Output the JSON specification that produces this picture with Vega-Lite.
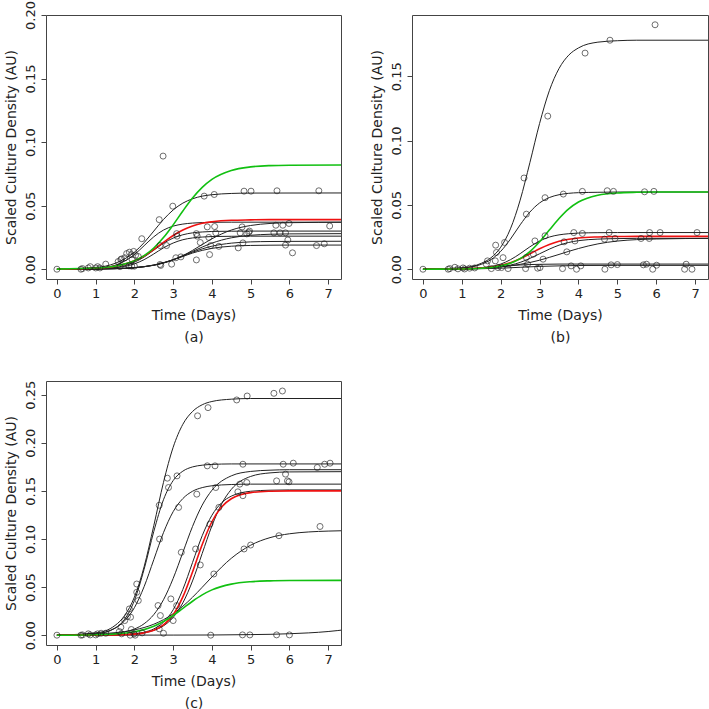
{
"$schema": "https://vega.github.io/schema/vega-lite/v6.json",
"padding": {"left": 3, "top": 0, "right": 0, "bottom": 0},
"background": "white",
"config": {
 "view": {"stroke": "#444", "strokeWidth": 1},
 "font": "DejaVu Sans",
 "axis": {"grid": false, "domain": false, "tickColor": "#444", "tickSize": 5, "labelFontSize": 13, "labelColor": "#222", "titleFontSize": 14, "titleFontWeight": "normal", "titleColor": "#222", "titleLineHeight": 22}
},
"datasets": {
"cv": [
{"p":"a","c":"A","g":"k","t":0,"v":0.0001},{"p":"a","c":"A","g":"k","t":1,"v":0.0014},{"p":"a","c":"A","g":"k","t":1.5,"v":0.0046},{"p":"a","c":"A","g":"k","t":2,"v":0.0134},{"p":"a","c":"A","g":"k","t":2.25,"v":0.0209},{"p":"a","c":"A","g":"k","t":2.5,"v":0.030},{"p":"a","c":"A","g":"k","t":2.75,"v":0.0391},{"p":"a","c":"A","g":"k","t":3,"v":0.0466},{"p":"a","c":"A","g":"k","t":3.25,"v":0.052},{"p":"a","c":"A","g":"k","t":3.5,"v":0.0554},{"p":"a","c":"A","g":"k","t":3.75,"v":0.0575},{"p":"a","c":"A","g":"k","t":4,"v":0.0586},{"p":"a","c":"A","g":"k","t":4.5,"v":0.0596},{"p":"a","c":"A","g":"k","t":5,"v":0.0599},{"p":"a","c":"A","g":"k","t":7.5,"v":0.060},
{"p":"a","c":"D","g":"k","t":0,"v":0},{"p":"a","c":"D","g":"k","t":1,"v":0.0007},{"p":"a","c":"D","g":"k","t":1.5,"v":0.0031},{"p":"a","c":"D","g":"k","t":2,"v":0.0115},{"p":"a","c":"D","g":"k","t":2.25,"v":0.0185},{"p":"a","c":"D","g":"k","t":2.5,"v":0.0255},{"p":"a","c":"D","g":"k","t":2.75,"v":0.0308},{"p":"a","c":"D","g":"k","t":3,"v":0.0339},{"p":"a","c":"D","g":"k","t":3.25,"v":0.0355},{"p":"a","c":"D","g":"k","t":3.5,"v":0.0363},{"p":"a","c":"D","g":"k","t":3.75,"v":0.0367},{"p":"a","c":"D","g":"k","t":4,"v":0.0369},{"p":"a","c":"D","g":"k","t":4.5,"v":0.037},{"p":"a","c":"D","g":"k","t":7.5,"v":0.037},
{"p":"a","c":"E","g":"k","t":0,"v":0},{"p":"a","c":"E","g":"k","t":1,"v":0.0003},{"p":"a","c":"E","g":"k","t":1.5,"v":0.0014},{"p":"a","c":"E","g":"k","t":2,"v":0.0055},{"p":"a","c":"E","g":"k","t":2.25,"v":0.0096},{"p":"a","c":"E","g":"k","t":2.5,"v":0.015},{"p":"a","c":"E","g":"k","t":2.75,"v":0.0204},{"p":"a","c":"E","g":"k","t":3,"v":0.0245},{"p":"a","c":"E","g":"k","t":3.25,"v":0.0271},{"p":"a","c":"E","g":"k","t":3.5,"v":0.0286},{"p":"a","c":"E","g":"k","t":3.75,"v":0.0293},{"p":"a","c":"E","g":"k","t":4,"v":0.0297},{"p":"a","c":"E","g":"k","t":4.5,"v":0.0299},{"p":"a","c":"E","g":"k","t":5,"v":0.030},{"p":"a","c":"E","g":"k","t":7.5,"v":0.030},
{"p":"a","c":"G","g":"k","t":0,"v":0},{"p":"a","c":"G","g":"k","t":1,"v":0.0003},{"p":"a","c":"G","g":"k","t":1.5,"v":0.0011},{"p":"a","c":"G","g":"k","t":2,"v":0.0042},{"p":"a","c":"G","g":"k","t":2.25,"v":0.0075},{"p":"a","c":"G","g":"k","t":2.5,"v":0.012},{"p":"a","c":"G","g":"k","t":2.75,"v":0.0168},{"p":"a","c":"G","g":"k","t":3,"v":0.0206},{"p":"a","c":"G","g":"k","t":3.25,"v":0.0232},{"p":"a","c":"G","g":"k","t":3.5,"v":0.0246},{"p":"a","c":"G","g":"k","t":3.75,"v":0.0253},{"p":"a","c":"G","g":"k","t":4,"v":0.0257},{"p":"a","c":"G","g":"k","t":4.5,"v":0.0259},{"p":"a","c":"G","g":"k","t":5,"v":0.026},{"p":"a","c":"G","g":"k","t":7.5,"v":0.026},
{"p":"a","c":"F","g":"k","t":0,"v":0},{"p":"a","c":"F","g":"k","t":1,"v":0.0002},{"p":"a","c":"F","g":"k","t":1.5,"v":0.0005},{"p":"a","c":"F","g":"k","t":2,"v":0.0013},{"p":"a","c":"F","g":"k","t":2.5,"v":0.0033},{"p":"a","c":"F","g":"k","t":2.75,"v":0.0051},{"p":"a","c":"F","g":"k","t":3,"v":0.0075},{"p":"a","c":"F","g":"k","t":3.25,"v":0.0106},{"p":"a","c":"F","g":"k","t":3.5,"v":0.014},{"p":"a","c":"F","g":"k","t":3.75,"v":0.0174},{"p":"a","c":"F","g":"k","t":4,"v":0.0205},{"p":"a","c":"F","g":"k","t":4.5,"v":0.0247},{"p":"a","c":"F","g":"k","t":5,"v":0.0267},{"p":"a","c":"F","g":"k","t":5.5,"v":0.0275},{"p":"a","c":"F","g":"k","t":6,"v":0.0278},{"p":"a","c":"F","g":"k","t":7.5,"v":0.028},
{"p":"a","c":"L1","g":"k","t":0,"v":0},{"p":"a","c":"L1","g":"k","t":1,"v":0.0002},{"p":"a","c":"L1","g":"k","t":1.5,"v":0.0005},{"p":"a","c":"L1","g":"k","t":2,"v":0.0012},{"p":"a","c":"L1","g":"k","t":2.5,"v":0.0031},{"p":"a","c":"L1","g":"k","t":2.75,"v":0.0048},{"p":"a","c":"L1","g":"k","t":3,"v":0.0073},{"p":"a","c":"L1","g":"k","t":3.25,"v":0.0107},{"p":"a","c":"L1","g":"k","t":3.5,"v":0.0148},{"p":"a","c":"L1","g":"k","t":3.75,"v":0.0194},{"p":"a","c":"L1","g":"k","t":4,"v":0.0239},{"p":"a","c":"L1","g":"k","t":4.5,"v":0.0308},{"p":"a","c":"L1","g":"k","t":5,"v":0.0344},{"p":"a","c":"L1","g":"k","t":5.5,"v":0.036},{"p":"a","c":"L1","g":"k","t":6,"v":0.0366},{"p":"a","c":"L1","g":"k","t":7.5,"v":0.037},
{"p":"a","c":"L3","g":"k","t":0,"v":0},{"p":"a","c":"L3","g":"k","t":1,"v":0.0001},{"p":"a","c":"L3","g":"k","t":1.5,"v":0.0004},{"p":"a","c":"L3","g":"k","t":2,"v":0.0012},{"p":"a","c":"L3","g":"k","t":2.5,"v":0.0032},{"p":"a","c":"L3","g":"k","t":2.75,"v":0.0051},{"p":"a","c":"L3","g":"k","t":3,"v":0.0075},{"p":"a","c":"L3","g":"k","t":3.25,"v":0.0104},{"p":"a","c":"L3","g":"k","t":3.5,"v":0.0134},{"p":"a","c":"L3","g":"k","t":3.75,"v":0.016},{"p":"a","c":"L3","g":"k","t":4,"v":0.0181},{"p":"a","c":"L3","g":"k","t":4.5,"v":0.0205},{"p":"a","c":"L3","g":"k","t":5,"v":0.0215},{"p":"a","c":"L3","g":"k","t":5.5,"v":0.0218},{"p":"a","c":"L3","g":"k","t":6,"v":0.0219},{"p":"a","c":"L3","g":"k","t":7.5,"v":0.022},
{"p":"a","c":"L4","g":"k","t":0,"v":0},{"p":"a","c":"L4","g":"k","t":1,"v":0.0001},{"p":"a","c":"L4","g":"k","t":1.5,"v":0.0004},{"p":"a","c":"L4","g":"k","t":2,"v":0.0011},{"p":"a","c":"L4","g":"k","t":2.5,"v":0.0032},{"p":"a","c":"L4","g":"k","t":2.75,"v":0.005},{"p":"a","c":"L4","g":"k","t":3,"v":0.0074},{"p":"a","c":"L4","g":"k","t":3.25,"v":0.01},{"p":"a","c":"L4","g":"k","t":3.5,"v":0.0127},{"p":"a","c":"L4","g":"k","t":3.75,"v":0.0148},{"p":"a","c":"L4","g":"k","t":4,"v":0.0164},{"p":"a","c":"L4","g":"k","t":4.5,"v":0.0181},{"p":"a","c":"L4","g":"k","t":5,"v":0.0187},{"p":"a","c":"L4","g":"k","t":5.5,"v":0.0189},{"p":"a","c":"L4","g":"k","t":6,"v":0.019},{"p":"a","c":"L4","g":"k","t":7.5,"v":0.019},
{"p":"a","c":"R","g":"r","t":0,"v":0.0001},{"p":"a","c":"R","g":"r","t":1,"v":0.0008},{"p":"a","c":"R","g":"r","t":1.5,"v":0.0023},{"p":"a","c":"R","g":"r","t":2,"v":0.0066},{"p":"a","c":"R","g":"r","t":2.25,"v":0.0104},{"p":"a","c":"R","g":"r","t":2.5,"v":0.0155},{"p":"a","c":"R","g":"r","t":2.75,"v":0.0211},{"p":"a","c":"R","g":"r","t":3,"v":0.0265},{"p":"a","c":"R","g":"r","t":3.25,"v":0.0309},{"p":"a","c":"R","g":"r","t":3.5,"v":0.034},{"p":"a","c":"R","g":"r","t":3.75,"v":0.0361},{"p":"a","c":"R","g":"r","t":4,"v":0.0373},{"p":"a","c":"R","g":"r","t":4.5,"v":0.0385},{"p":"a","c":"R","g":"r","t":5,"v":0.0388},{"p":"a","c":"R","g":"r","t":5.5,"v":0.039},{"p":"a","c":"R","g":"r","t":7.5,"v":0.039},
{"p":"a","c":"Gr","g":"g","t":0,"v":0.0001},{"p":"a","c":"Gr","g":"g","t":1,"v":0.0009},{"p":"a","c":"Gr","g":"g","t":1.5,"v":0.0024},{"p":"a","c":"Gr","g":"g","t":2,"v":0.0066},{"p":"a","c":"Gr","g":"g","t":2.25,"v":0.0107},{"p":"a","c":"Gr","g":"g","t":2.5,"v":0.0167},{"p":"a","c":"Gr","g":"g","t":2.75,"v":0.0249},{"p":"a","c":"Gr","g":"g","t":3,"v":0.0349},{"p":"a","c":"Gr","g":"g","t":3.25,"v":0.0458},{"p":"a","c":"Gr","g":"g","t":3.5,"v":0.056},{"p":"a","c":"Gr","g":"g","t":3.75,"v":0.0644},{"p":"a","c":"Gr","g":"g","t":4,"v":0.0707},{"p":"a","c":"Gr","g":"g","t":4.5,"v":0.0777},{"p":"a","c":"Gr","g":"g","t":5,"v":0.0805},{"p":"a","c":"Gr","g":"g","t":5.5,"v":0.0815},{"p":"a","c":"Gr","g":"g","t":6,"v":0.0818},{"p":"a","c":"Gr","g":"g","t":7.5,"v":0.082},

{"p":"b","c":"B1","g":"k","t":0,"v":0.0001},{"p":"b","c":"B1","g":"k","t":1,"v":0.0011},{"p":"b","c":"B1","g":"k","t":1.5,"v":0.0046},{"p":"b","c":"B1","g":"k","t":1.75,"v":0.0089},{"p":"b","c":"B1","g":"k","t":2,"v":0.0171},{"p":"b","c":"B1","g":"k","t":2.25,"v":0.0314},{"p":"b","c":"B1","g":"k","t":2.5,"v":0.0537},{"p":"b","c":"B1","g":"k","t":2.75,"v":0.0828},{"p":"b","c":"B1","g":"k","t":3,"v":0.1133},{"p":"b","c":"B1","g":"k","t":3.25,"v":0.1387},{"p":"b","c":"B1","g":"k","t":3.5,"v":0.156},{"p":"b","c":"B1","g":"k","t":3.75,"v":0.1664},{"p":"b","c":"B1","g":"k","t":4,"v":0.172},{"p":"b","c":"B1","g":"k","t":4.5,"v":0.1765},{"p":"b","c":"B1","g":"k","t":5,"v":0.1776},{"p":"b","c":"B1","g":"k","t":5.5,"v":0.178},{"p":"b","c":"B1","g":"k","t":7.5,"v":0.178},
{"p":"b","c":"B2","g":"k","t":0,"v":0},{"p":"b","c":"B2","g":"k","t":1,"v":0.0009},{"p":"b","c":"B2","g":"k","t":1.5,"v":0.0038},{"p":"b","c":"B2","g":"k","t":1.75,"v":0.0075},{"p":"b","c":"B2","g":"k","t":2,"v":0.0139},{"p":"b","c":"B2","g":"k","t":2.25,"v":0.0234},{"p":"b","c":"B2","g":"k","t":2.5,"v":0.0345},{"p":"b","c":"B2","g":"k","t":2.75,"v":0.0444},{"p":"b","c":"B2","g":"k","t":3,"v":0.0515},{"p":"b","c":"B2","g":"k","t":3.25,"v":0.0557},{"p":"b","c":"B2","g":"k","t":3.5,"v":0.0579},{"p":"b","c":"B2","g":"k","t":3.75,"v":0.059},{"p":"b","c":"B2","g":"k","t":4,"v":0.0595},{"p":"b","c":"B2","g":"k","t":4.5,"v":0.0598},{"p":"b","c":"B2","g":"k","t":5,"v":0.060},{"p":"b","c":"B2","g":"k","t":7.5,"v":0.060},
{"p":"b","c":"B3","g":"k","t":0,"v":0},{"p":"b","c":"B3","g":"k","t":1,"v":0.0002},{"p":"b","c":"B3","g":"k","t":1.5,"v":0.001},{"p":"b","c":"B3","g":"k","t":1.75,"v":0.0021},{"p":"b","c":"B3","g":"k","t":2,"v":0.004},{"p":"b","c":"B3","g":"k","t":2.25,"v":0.0074},{"p":"b","c":"B3","g":"k","t":2.5,"v":0.0121},{"p":"b","c":"B3","g":"k","t":2.75,"v":0.0174},{"p":"b","c":"B3","g":"k","t":3,"v":0.0219},{"p":"b","c":"B3","g":"k","t":3.25,"v":0.025},{"p":"b","c":"B3","g":"k","t":3.5,"v":0.0267},{"p":"b","c":"B3","g":"k","t":3.75,"v":0.0276},{"p":"b","c":"B3","g":"k","t":4,"v":0.0281},{"p":"b","c":"B3","g":"k","t":4.5,"v":0.0284},{"p":"b","c":"B3","g":"k","t":5,"v":0.0285},{"p":"b","c":"B3","g":"k","t":7.5,"v":0.0285},
{"p":"b","c":"B4","g":"k","t":0,"v":0},{"p":"b","c":"B4","g":"k","t":1,"v":0.0002},{"p":"b","c":"B4","g":"k","t":1.5,"v":0.0006},{"p":"b","c":"B4","g":"k","t":1.75,"v":0.001},{"p":"b","c":"B4","g":"k","t":2,"v":0.0018},{"p":"b","c":"B4","g":"k","t":2.25,"v":0.0032},{"p":"b","c":"B4","g":"k","t":2.5,"v":0.0053},{"p":"b","c":"B4","g":"k","t":2.75,"v":0.0084},{"p":"b","c":"B4","g":"k","t":3,"v":0.012},{"p":"b","c":"B4","g":"k","t":3.25,"v":0.0156},{"p":"b","c":"B4","g":"k","t":3.5,"v":0.0187},{"p":"b","c":"B4","g":"k","t":3.75,"v":0.0208},{"p":"b","c":"B4","g":"k","t":4,"v":0.0222},{"p":"b","c":"B4","g":"k","t":4.5,"v":0.0234},{"p":"b","c":"B4","g":"k","t":5,"v":0.0238},{"p":"b","c":"B4","g":"k","t":5.5,"v":0.024},{"p":"b","c":"B4","g":"k","t":7.5,"v":0.024},
{"p":"b","c":"B5","g":"k","t":0,"v":0.0001},{"p":"b","c":"B5","g":"k","t":1,"v":0.0004},{"p":"b","c":"B5","g":"k","t":1.5,"v":0.0009},{"p":"b","c":"B5","g":"k","t":2,"v":0.0019},{"p":"b","c":"B5","g":"k","t":2.5,"v":0.0038},{"p":"b","c":"B5","g":"k","t":3,"v":0.007},{"p":"b","c":"B5","g":"k","t":3.25,"v":0.0092},{"p":"b","c":"B5","g":"k","t":3.5,"v":0.0115},{"p":"b","c":"B5","g":"k","t":3.75,"v":0.0139},{"p":"b","c":"B5","g":"k","t":4,"v":0.0161},{"p":"b","c":"B5","g":"k","t":4.5,"v":0.0197},{"p":"b","c":"B5","g":"k","t":5,"v":0.0219},{"p":"b","c":"B5","g":"k","t":5.5,"v":0.023},{"p":"b","c":"B5","g":"k","t":6,"v":0.0235},{"p":"b","c":"B5","g":"k","t":7.5,"v":0.024},
{"p":"b","c":"F1","g":"k","t":0,"v":0},{"p":"b","c":"F1","g":"k","t":1,"v":0.0002},{"p":"b","c":"F1","g":"k","t":1.5,"v":0.0007},{"p":"b","c":"F1","g":"k","t":2,"v":0.002},{"p":"b","c":"F1","g":"k","t":2.5,"v":0.0033},{"p":"b","c":"F1","g":"k","t":3,"v":0.0038},{"p":"b","c":"F1","g":"k","t":3.5,"v":0.004},{"p":"b","c":"F1","g":"k","t":7.5,"v":0.004},
{"p":"b","c":"F3","g":"k","t":0,"v":0},{"p":"b","c":"F3","g":"k","t":1,"v":0.0001},{"p":"b","c":"F3","g":"k","t":1.5,"v":0.0004},{"p":"b","c":"F3","g":"k","t":2,"v":0.0008},{"p":"b","c":"F3","g":"k","t":2.5,"v":0.0015},{"p":"b","c":"F3","g":"k","t":3,"v":0.0022},{"p":"b","c":"F3","g":"k","t":3.5,"v":0.0026},{"p":"b","c":"F3","g":"k","t":4,"v":0.0029},{"p":"b","c":"F3","g":"k","t":5,"v":0.003},{"p":"b","c":"F3","g":"k","t":7.5,"v":0.003},
{"p":"b","c":"R","g":"r","t":0,"v":0},{"p":"b","c":"R","g":"r","t":1,"v":0.0003},{"p":"b","c":"R","g":"r","t":1.5,"v":0.001},{"p":"b","c":"R","g":"r","t":1.75,"v":0.0017},{"p":"b","c":"R","g":"r","t":2,"v":0.003},{"p":"b","c":"R","g":"r","t":2.25,"v":0.0051},{"p":"b","c":"R","g":"r","t":2.5,"v":0.0082},{"p":"b","c":"R","g":"r","t":2.75,"v":0.012},{"p":"b","c":"R","g":"r","t":3,"v":0.0159},{"p":"b","c":"R","g":"r","t":3.25,"v":0.0192},{"p":"b","c":"R","g":"r","t":3.5,"v":0.0217},{"p":"b","c":"R","g":"r","t":3.75,"v":0.0233},{"p":"b","c":"R","g":"r","t":4,"v":0.0243},{"p":"b","c":"R","g":"r","t":4.5,"v":0.0251},{"p":"b","c":"R","g":"r","t":5,"v":0.0254},{"p":"b","c":"R","g":"r","t":5.5,"v":0.0255},{"p":"b","c":"R","g":"r","t":7.5,"v":0.0255},
{"p":"b","c":"Gr","g":"g","t":0,"v":0},{"p":"b","c":"Gr","g":"g","t":1,"v":0.0002},{"p":"b","c":"Gr","g":"g","t":1.5,"v":0.0008},{"p":"b","c":"Gr","g":"g","t":1.75,"v":0.0014},{"p":"b","c":"Gr","g":"g","t":2,"v":0.0026},{"p":"b","c":"Gr","g":"g","t":2.25,"v":0.0047},{"p":"b","c":"Gr","g":"g","t":2.5,"v":0.0082},{"p":"b","c":"Gr","g":"g","t":2.75,"v":0.0136},{"p":"b","c":"Gr","g":"g","t":3,"v":0.0213},{"p":"b","c":"Gr","g":"g","t":3.25,"v":0.0304},{"p":"b","c":"Gr","g":"g","t":3.5,"v":0.0394},{"p":"b","c":"Gr","g":"g","t":3.75,"v":0.0469},{"p":"b","c":"Gr","g":"g","t":4,"v":0.0522},{"p":"b","c":"Gr","g":"g","t":4.5,"v":0.0575},{"p":"b","c":"Gr","g":"g","t":5,"v":0.0593},{"p":"b","c":"Gr","g":"g","t":5.5,"v":0.0598},{"p":"b","c":"Gr","g":"g","t":6,"v":0.060},{"p":"b","c":"Gr","g":"g","t":7.5,"v":0.060},

{"p":"c","c":"C1","g":"k","t":0,"v":0.0001},{"p":"c","c":"C1","g":"k","t":1,"v":0.0023},{"p":"c","c":"C1","g":"k","t":1.5,"v":0.0101},{"p":"c","c":"C1","g":"k","t":1.75,"v":0.0205},{"p":"c","c":"C1","g":"k","t":2,"v":0.0396},{"p":"c","c":"C1","g":"k","t":2.25,"v":0.0711},{"p":"c","c":"C1","g":"k","t":2.5,"v":0.1138},{"p":"c","c":"C1","g":"k","t":2.75,"v":0.1588},{"p":"c","c":"C1","g":"k","t":3,"v":0.1953},{"p":"c","c":"C1","g":"k","t":3.25,"v":0.2192},{"p":"c","c":"C1","g":"k","t":3.5,"v":0.2325},{"p":"c","c":"C1","g":"k","t":3.75,"v":0.2395},{"p":"c","c":"C1","g":"k","t":4,"v":0.2429},{"p":"c","c":"C1","g":"k","t":4.5,"v":0.2453},{"p":"c","c":"C1","g":"k","t":5,"v":0.246},{"p":"c","c":"C1","g":"k","t":7.5,"v":0.246},
{"p":"c","c":"C2","g":"k","t":0,"v":0},{"p":"c","c":"C2","g":"k","t":1,"v":0.0012},{"p":"c","c":"C2","g":"k","t":1.5,"v":0.0072},{"p":"c","c":"C2","g":"k","t":1.75,"v":0.0167},{"p":"c","c":"C2","g":"k","t":2,"v":0.0361},{"p":"c","c":"C2","g":"k","t":2.25,"v":0.0685},{"p":"c","c":"C2","g":"k","t":2.5,"v":0.1078},{"p":"c","c":"C2","g":"k","t":2.75,"v":0.1408},{"p":"c","c":"C2","g":"k","t":3,"v":0.1607},{"p":"c","c":"C2","g":"k","t":3.25,"v":0.1705},{"p":"c","c":"C2","g":"k","t":3.5,"v":0.1749},{"p":"c","c":"C2","g":"k","t":3.75,"v":0.1767},{"p":"c","c":"C2","g":"k","t":4,"v":0.1775},{"p":"c","c":"C2","g":"k","t":4.5,"v":0.178},{"p":"c","c":"C2","g":"k","t":7.5,"v":0.178},
{"p":"c","c":"C3","g":"k","t":0,"v":0.0001},{"p":"c","c":"C3","g":"k","t":1,"v":0.0017},{"p":"c","c":"C3","g":"k","t":1.5,"v":0.0074},{"p":"c","c":"C3","g":"k","t":1.75,"v":0.015},{"p":"c","c":"C3","g":"k","t":2,"v":0.0286},{"p":"c","c":"C3","g":"k","t":2.25,"v":0.0504},{"p":"c","c":"C3","g":"k","t":2.5,"v":0.0785},{"p":"c","c":"C3","g":"k","t":2.75,"v":0.1066},{"p":"c","c":"C3","g":"k","t":3,"v":0.1284},{"p":"c","c":"C3","g":"k","t":3.25,"v":0.142},{"p":"c","c":"C3","g":"k","t":3.5,"v":0.1496},{"p":"c","c":"C3","g":"k","t":3.75,"v":0.1534},{"p":"c","c":"C3","g":"k","t":4,"v":0.1553},{"p":"c","c":"C3","g":"k","t":4.5,"v":0.1566},{"p":"c","c":"C3","g":"k","t":5,"v":0.157},{"p":"c","c":"C3","g":"k","t":7.5,"v":0.157},
{"p":"c","c":"M1","g":"k","t":0,"v":0},{"p":"c","c":"M1","g":"k","t":1,"v":0.0005},{"p":"c","c":"M1","g":"k","t":1.5,"v":0.0018},{"p":"c","c":"M1","g":"k","t":1.75,"v":0.0034},{"p":"c","c":"M1","g":"k","t":2,"v":0.0064},{"p":"c","c":"M1","g":"k","t":2.25,"v":0.0119},{"p":"c","c":"M1","g":"k","t":2.5,"v":0.0214},{"p":"c","c":"M1","g":"k","t":2.75,"v":0.0368},{"p":"c","c":"M1","g":"k","t":3,"v":0.059},{"p":"c","c":"M1","g":"k","t":3.25,"v":0.086},{"p":"c","c":"M1","g":"k","t":3.5,"v":0.113},{"p":"c","c":"M1","g":"k","t":3.75,"v":0.1352},{"p":"c","c":"M1","g":"k","t":4,"v":0.1506},{"p":"c","c":"M1","g":"k","t":4.5,"v":0.1656},{"p":"c","c":"M1","g":"k","t":5,"v":0.1702},{"p":"c","c":"M1","g":"k","t":5.5,"v":0.1715},{"p":"c","c":"M1","g":"k","t":6,"v":0.172},{"p":"c","c":"M1","g":"k","t":7.5,"v":0.172},
{"p":"c","c":"M2","g":"k","t":0,"v":0},{"p":"c","c":"M2","g":"k","t":1,"v":0.0001},{"p":"c","c":"M2","g":"k","t":1.5,"v":0.0003},{"p":"c","c":"M2","g":"k","t":1.75,"v":0.0007},{"p":"c","c":"M2","g":"k","t":2,"v":0.0014},{"p":"c","c":"M2","g":"k","t":2.25,"v":0.0031},{"p":"c","c":"M2","g":"k","t":2.5,"v":0.0065},{"p":"c","c":"M2","g":"k","t":2.75,"v":0.0134},{"p":"c","c":"M2","g":"k","t":3,"v":0.0264},{"p":"c","c":"M2","g":"k","t":3.25,"v":0.0476},{"p":"c","c":"M2","g":"k","t":3.5,"v":0.0755},{"p":"c","c":"M2","g":"k","t":3.75,"v":0.1034},{"p":"c","c":"M2","g":"k","t":4,"v":0.1246},{"p":"c","c":"M2","g":"k","t":4.25,"v":0.1376},{"p":"c","c":"M2","g":"k","t":4.5,"v":0.1445},{"p":"c","c":"M2","g":"k","t":5,"v":0.1496},{"p":"c","c":"M2","g":"k","t":5.5,"v":0.1507},{"p":"c","c":"M2","g":"k","t":6,"v":0.151},{"p":"c","c":"M2","g":"k","t":7.5,"v":0.151},
{"p":"c","c":"M3","g":"k","t":0,"v":0},{"p":"c","c":"M3","g":"k","t":1,"v":0.0001},{"p":"c","c":"M3","g":"k","t":1.5,"v":0.0003},{"p":"c","c":"M3","g":"k","t":1.75,"v":0.0006},{"p":"c","c":"M3","g":"k","t":2,"v":0.0013},{"p":"c","c":"M3","g":"k","t":2.25,"v":0.0025},{"p":"c","c":"M3","g":"k","t":2.5,"v":0.005},{"p":"c","c":"M3","g":"k","t":2.75,"v":0.0097},{"p":"c","c":"M3","g":"k","t":3,"v":0.0185},{"p":"c","c":"M3","g":"k","t":3.25,"v":0.0336},{"p":"c","c":"M3","g":"k","t":3.5,"v":0.0564},{"p":"c","c":"M3","g":"k","t":3.75,"v":0.085},{"p":"c","c":"M3","g":"k","t":4,"v":0.1136},{"p":"c","c":"M3","g":"k","t":4.25,"v":0.1364},{"p":"c","c":"M3","g":"k","t":4.5,"v":0.1515},{"p":"c","c":"M3","g":"k","t":5,"v":0.165},{"p":"c","c":"M3","g":"k","t":5.5,"v":0.1687},{"p":"c","c":"M3","g":"k","t":6,"v":0.1697},{"p":"c","c":"M3","g":"k","t":7.5,"v":0.170},
{"p":"c","c":"C7","g":"k","t":0,"v":0.0002},{"p":"c","c":"C7","g":"k","t":1,"v":0.0012},{"p":"c","c":"C7","g":"k","t":1.5,"v":0.0026},{"p":"c","c":"C7","g":"k","t":2,"v":0.0055},{"p":"c","c":"C7","g":"k","t":2.5,"v":0.0114},{"p":"c","c":"C7","g":"k","t":2.75,"v":0.0161},{"p":"c","c":"C7","g":"k","t":3,"v":0.0223},{"p":"c","c":"C7","g":"k","t":3.25,"v":0.0301},{"p":"c","c":"C7","g":"k","t":3.5,"v":0.0394},{"p":"c","c":"C7","g":"k","t":3.75,"v":0.0498},{"p":"c","c":"C7","g":"k","t":4,"v":0.0605},{"p":"c","c":"C7","g":"k","t":4.5,"v":0.0799},{"p":"c","c":"C7","g":"k","t":5,"v":0.0935},{"p":"c","c":"C7","g":"k","t":5.5,"v":0.1014},{"p":"c","c":"C7","g":"k","t":6,"v":0.1054},{"p":"c","c":"C7","g":"k","t":6.5,"v":0.1073},{"p":"c","c":"C7","g":"k","t":7,"v":0.1082},{"p":"c","c":"C7","g":"k","t":7.5,"v":0.1087},
{"p":"c","c":"CF","g":"k","t":0,"v":0},{"p":"c","c":"CF","g":"k","t":3,"v":0.0001},{"p":"c","c":"CF","g":"k","t":4,"v":0.0002},{"p":"c","c":"CF","g":"k","t":5,"v":0.0006},{"p":"c","c":"CF","g":"k","t":5.5,"v":0.0009},{"p":"c","c":"CF","g":"k","t":6,"v":0.0015},{"p":"c","c":"CF","g":"k","t":6.5,"v":0.0024},{"p":"c","c":"CF","g":"k","t":7,"v":0.0038},{"p":"c","c":"CF","g":"k","t":7.5,"v":0.006},
{"p":"c","c":"R","g":"r","t":0,"v":0},{"p":"c","c":"R","g":"r","t":1,"v":0.0001},{"p":"c","c":"R","g":"r","t":1.5,"v":0.0002},{"p":"c","c":"R","g":"r","t":2,"v":0.0011},{"p":"c","c":"R","g":"r","t":2.25,"v":0.0024},{"p":"c","c":"R","g":"r","t":2.5,"v":0.0051},{"p":"c","c":"R","g":"r","t":2.75,"v":0.0107},{"p":"c","c":"R","g":"r","t":3,"v":0.0213},{"p":"c","c":"R","g":"r","t":3.25,"v":0.0398},{"p":"c","c":"R","g":"r","t":3.5,"v":0.0657},{"p":"c","c":"R","g":"r","t":3.75,"v":0.0943},{"p":"c","c":"R","g":"r","t":4,"v":0.1179},{"p":"c","c":"R","g":"r","t":4.25,"v":0.1333},{"p":"c","c":"R","g":"r","t":4.5,"v":0.1418},{"p":"c","c":"R","g":"r","t":5,"v":0.1482},{"p":"c","c":"R","g":"r","t":5.5,"v":0.1496},{"p":"c","c":"R","g":"r","t":6,"v":0.150},{"p":"c","c":"R","g":"r","t":7.5,"v":0.150},
{"p":"c","c":"Gr","g":"g","t":0,"v":0},{"p":"c","c":"Gr","g":"g","t":1,"v":0.0005},{"p":"c","c":"Gr","g":"g","t":1.5,"v":0.0013},{"p":"c","c":"Gr","g":"g","t":2,"v":0.0036},{"p":"c","c":"Gr","g":"g","t":2.25,"v":0.0058},{"p":"c","c":"Gr","g":"g","t":2.5,"v":0.0093},{"p":"c","c":"Gr","g":"g","t":2.75,"v":0.0142},{"p":"c","c":"Gr","g":"g","t":3,"v":0.0205},{"p":"c","c":"Gr","g":"g","t":3.25,"v":0.0279},{"p":"c","c":"Gr","g":"g","t":3.5,"v":0.0353},{"p":"c","c":"Gr","g":"g","t":3.75,"v":0.0419},{"p":"c","c":"Gr","g":"g","t":4,"v":0.0471},{"p":"c","c":"Gr","g":"g","t":4.5,"v":0.0531},{"p":"c","c":"Gr","g":"g","t":5,"v":0.0556},{"p":"c","c":"Gr","g":"g","t":5.5,"v":0.0565},{"p":"c","c":"Gr","g":"g","t":6,"v":0.0568},{"p":"c","c":"Gr","g":"g","t":7.5,"v":0.057}
],
"pt": [
{"p":"a","t":0,"v":0},{"p":"a","t":0.62,"v":0},{"p":"a","t":0.66,"v":0.0005},{"p":"a","t":0.81,"v":0.001},{"p":"a","t":0.86,"v":0.002},{"p":"a","t":1.0,"v":0.001},{"p":"a","t":1.05,"v":0.002},{"p":"a","t":1.11,"v":0.001},{"p":"a","t":1.26,"v":0.004},
{"p":"a","t":1.58,"v":0.006},{"p":"a","t":1.63,"v":0.002},{"p":"a","t":1.65,"v":0.0076},{"p":"a","t":1.67,"v":0.0081},{"p":"a","t":1.75,"v":0.009},{"p":"a","t":1.8,"v":0.0123},{"p":"a","t":1.86,"v":0.0026},{"p":"a","t":1.87,"v":0.0134},{"p":"a","t":1.92,"v":0.0115},{"p":"a","t":1.93,"v":0.0024},{"p":"a","t":1.94,"v":0.0076},{"p":"a","t":1.98,"v":0.014},{"p":"a","t":2.0,"v":0.0024},{"p":"a","t":2.03,"v":0.011},{"p":"a","t":2.1,"v":0.010},{"p":"a","t":2.19,"v":0.024},
{"p":"a","t":2.64,"v":0.039},{"p":"a","t":2.74,"v":0.089},{"p":"a","t":2.99,"v":0.0496},{"p":"a","t":2.66,"v":0.0186},{"p":"a","t":2.83,"v":0.0186},{"p":"a","t":2.66,"v":0.0037},{"p":"a","t":2.68,"v":0.003},{"p":"a","t":2.96,"v":0.004},{"p":"a","t":3.09,"v":0.028},{"p":"a","t":3.1,"v":0.026},{"p":"a","t":3.07,"v":0.009},{"p":"a","t":3.2,"v":0.0097},
{"p":"a","t":3.6,"v":0.0073},{"p":"a","t":3.6,"v":0.028},{"p":"a","t":3.62,"v":0.026},{"p":"a","t":3.7,"v":0.021},{"p":"a","t":3.8,"v":0.0575},{"p":"a","t":3.88,"v":0.0333},{"p":"a","t":3.92,"v":0.025},{"p":"a","t":3.94,"v":0.0115},{"p":"a","t":3.97,"v":0.0186},{"p":"a","t":4.06,"v":0.0588},{"p":"a","t":4.07,"v":0.0336},{"p":"a","t":4.1,"v":0.0286},{"p":"a","t":4.18,"v":0.018},
{"p":"a","t":4.68,"v":0.0168},{"p":"a","t":4.73,"v":0.0286},{"p":"a","t":4.78,"v":0.0333},{"p":"a","t":4.8,"v":0.0207},{"p":"a","t":4.83,"v":0.0614},{"p":"a","t":4.9,"v":0.0278},{"p":"a","t":4.95,"v":0.029},{"p":"a","t":4.97,"v":0.030},{"p":"a","t":5.01,"v":0.0614},
{"p":"a","t":5.6,"v":0.0286},{"p":"a","t":5.65,"v":0.0346},{"p":"a","t":5.68,"v":0.0617},{"p":"a","t":5.76,"v":0.0286},{"p":"a","t":5.83,"v":0.0346},{"p":"a","t":5.9,"v":0.0286},{"p":"a","t":5.9,"v":0.019},{"p":"a","t":5.96,"v":0.023},{"p":"a","t":5.99,"v":0.036},{"p":"a","t":6.08,"v":0.0129},
{"p":"a","t":6.7,"v":0.0186},{"p":"a","t":6.76,"v":0.0617},{"p":"a","t":6.9,"v":0.02},{"p":"a","t":7.04,"v":0.034},

{"p":"b","t":0,"v":0},{"p":"b","t":0.65,"v":0},{"p":"b","t":0.69,"v":0.0005},{"p":"b","t":0.82,"v":0.0015},{"p":"b","t":0.9,"v":0.0003},{"p":"b","t":1.03,"v":0.001},{"p":"b","t":1.07,"v":0.0002},{"p":"b","t":1.2,"v":0.0008},{"p":"b","t":1.33,"v":0.001},
{"p":"b","t":1.63,"v":0.0039},{"p":"b","t":1.66,"v":0.0065},{"p":"b","t":1.87,"v":0.0187},{"p":"b","t":1.89,"v":0.013},{"p":"b","t":1.86,"v":0.0065},{"p":"b","t":2.06,"v":0.009},{"p":"b","t":2.1,"v":0.0208},{"p":"b","t":2.02,"v":0.0013},{"p":"b","t":1.76,"v":0.0005},{"p":"b","t":1.93,"v":0.0013},{"p":"b","t":2.19,"v":0.0005},
{"p":"b","t":2.6,"v":0.0709},{"p":"b","t":2.66,"v":0.0428},{"p":"b","t":2.66,"v":0.0091},{"p":"b","t":2.69,"v":0.0039},{"p":"b","t":2.64,"v":0.0005},{"p":"b","t":2.84,"v":0.0117},{"p":"b","t":2.88,"v":0.022},{"p":"b","t":2.95,"v":0.0008},{"p":"b","t":3.01,"v":0.0013},{"p":"b","t":3.09,"v":0.0078},{"p":"b","t":3.14,"v":0.026},{"p":"b","t":3.14,"v":0.0556},{"p":"b","t":3.21,"v":0.119},
{"p":"b","t":3.61,"v":0.0584},{"p":"b","t":3.59,"v":0.0005},{"p":"b","t":3.63,"v":0.0213},{"p":"b","t":3.7,"v":0.0135},{"p":"b","t":3.81,"v":0.0026},{"p":"b","t":3.88,"v":0.0285},{"p":"b","t":3.91,"v":0.022},{"p":"b","t":3.95,"v":0},{"p":"b","t":4.06,"v":0.0026},{"p":"b","t":4.1,"v":0.0605},{"p":"b","t":4.1,"v":0.0278},{"p":"b","t":4.17,"v":0.168},
{"p":"b","t":4.67,"v":0.0234},{"p":"b","t":4.68,"v":0},{"p":"b","t":4.74,"v":0.061},{"p":"b","t":4.79,"v":0.0285},{"p":"b","t":4.81,"v":0.178},{"p":"b","t":4.84,"v":0.0034},{"p":"b","t":4.9,"v":0.0605},{"p":"b","t":4.94,"v":0.0239},{"p":"b","t":5.0,"v":0.0036},
{"p":"b","t":5.61,"v":0.0239},{"p":"b","t":5.67,"v":0.0034},{"p":"b","t":5.7,"v":0.0602},{"p":"b","t":5.75,"v":0.0039},{"p":"b","t":5.82,"v":0.0239},{"p":"b","t":5.83,"v":0.0285},{"p":"b","t":5.91,"v":0},{"p":"b","t":5.94,"v":0.0605},{"p":"b","t":5.97,"v":0.19},{"p":"b","t":6.01,"v":0.0031},{"p":"b","t":6.1,"v":0.0285},
{"p":"b","t":6.73,"v":0},{"p":"b","t":6.77,"v":0.0039},{"p":"b","t":6.92,"v":0},{"p":"b","t":7.05,"v":0.0285},

{"p":"c","t":0,"v":0},{"p":"c","t":0.62,"v":0},{"p":"c","t":0.66,"v":0.0003},{"p":"c","t":0.81,"v":0.0014},{"p":"c","t":0.86,"v":0.0003},{"p":"c","t":1.0,"v":0.0003},{"p":"c","t":1.05,"v":0.0014},{"p":"c","t":1.14,"v":0.002},{"p":"c","t":1.26,"v":0.002},
{"p":"c","t":1.61,"v":0.0038},{"p":"c","t":1.65,"v":0.0083},{"p":"c","t":1.67,"v":0.0014},{"p":"c","t":1.75,"v":0.0152},{"p":"c","t":1.82,"v":0.0194},{"p":"c","t":1.87,"v":0.0273},{"p":"c","t":1.89,"v":0},{"p":"c","t":1.9,"v":0.0187},{"p":"c","t":1.92,"v":0.0059},{"p":"c","t":1.99,"v":0.0014},{"p":"c","t":2.02,"v":0},{"p":"c","t":2.06,"v":0.0532},{"p":"c","t":2.06,"v":0.0446},{"p":"c","t":2.1,"v":0.036},{"p":"c","t":2.2,"v":0.0024},
{"p":"c","t":2.61,"v":0.0308},{"p":"c","t":2.64,"v":0.135},{"p":"c","t":2.65,"v":0.0999},{"p":"c","t":2.64,"v":0.0066},{"p":"c","t":2.67,"v":0.0204},{"p":"c","t":2.75,"v":0.002},{"p":"c","t":2.85,"v":0.1632},{"p":"c","t":2.88,"v":0.1535},{"p":"c","t":2.94,"v":0.0377},{"p":"c","t":3.0,"v":0.0152},{"p":"c","t":3.09,"v":0.0308},{"p":"c","t":3.1,"v":0.1656},{"p":"c","t":3.14,"v":0.1328},{"p":"c","t":3.21,"v":0.0861},
{"p":"c","t":3.58,"v":0.0896},{"p":"c","t":3.61,"v":0.1466},{"p":"c","t":3.63,"v":0.228},{"p":"c","t":3.7,"v":0.073},{"p":"c","t":3.88,"v":0.176},{"p":"c","t":3.9,"v":0.2365},{"p":"c","t":3.95,"v":0.1155},{"p":"c","t":3.97,"v":0},{"p":"c","t":4.05,"v":0.0636},{"p":"c","t":4.08,"v":0.176},{"p":"c","t":4.1,"v":0.1535},{"p":"c","t":4.18,"v":0.1328},
{"p":"c","t":4.64,"v":0.2445},{"p":"c","t":4.67,"v":0.149},{"p":"c","t":4.72,"v":0.157},{"p":"c","t":4.79,"v":0.0003},{"p":"c","t":4.8,"v":0.145},{"p":"c","t":4.8,"v":0.1777},{"p":"c","t":4.83,"v":0.0896},{"p":"c","t":4.9,"v":0.1587},{"p":"c","t":4.91,"v":0.2486},{"p":"c","t":4.98,"v":0.0003},{"p":"c","t":5.0,"v":0.0937},
{"p":"c","t":5.6,"v":0.2514},{"p":"c","t":5.67,"v":0.1604},{"p":"c","t":5.67,"v":0.0003},{"p":"c","t":5.73,"v":0.1034},{"p":"c","t":5.82,"v":0.2538},{"p":"c","t":5.84,"v":0.1777},{"p":"c","t":5.9,"v":0.1674},{"p":"c","t":5.95,"v":0.1604},{"p":"c","t":5.99,"v":0.1594},{"p":"c","t":6.0,"v":0.0003},{"p":"c","t":6.1,"v":0.1788},
{"p":"c","t":6.72,"v":0.1743},{"p":"c","t":6.79,"v":0.113},{"p":"c","t":6.91,"v":0.1777},{"p":"c","t":7.05,"v":0.1788}
]
},
"columns": 2,
"spacing": {"row": 102, "column": 71},
"bounds": "flush",
"concat": [
{
 "width": 295, "height": 264,
 "encoding": {
  "x": {"field": "t", "type": "quantitative", "scale": {"domain": [-0.282, 7.332], "nice": false, "zero": false}, "axis": {"values": [0,1,2,3,4,5,6,7], "title": ["Time (Days)", "(a)"], "labelPadding": 3, "titlePadding": 8}},
  "y": {"field": "v", "type": "quantitative", "scale": {"domain": [-0.0077, 0.2], "nice": false, "zero": false}, "axis": {"values": [0, 0.05, 0.1, 0.15, 0.2], "format": ".2f", "labelAngle": -90, "labelPadding": 4, "title": "Scaled Culture Density (AU)", "titlePadding": 6}}
 },
 "layer": [
  {"data": {"name": "cv"}, "transform": [{"filter": "datum.p == 'a' && datum.g == 'k'"}], "mark": {"type": "line", "interpolate": "monotone", "clip": true, "strokeWidth": 1, "color": "#222"}, "encoding": {"detail": {"field": "c"}}},
  {"data": {"name": "cv"}, "transform": [{"filter": "datum.p == 'a' && datum.g != 'k'"}], "mark": {"type": "line", "interpolate": "monotone", "clip": true, "strokeWidth": 1.6}, "encoding": {"color": {"field": "g", "scale": {"domain": ["r", "g"], "range": ["#ee1111", "#11c011"]}, "legend": null}}},
  {"data": {"name": "pt"}, "transform": [{"filter": "datum.p == 'a'"}], "mark": {"type": "point", "shape": "circle", "filled": false, "size": 36, "stroke": "#1a1a1a", "strokeWidth": 0.9, "clip": true}}
 ]
},
{
 "width": 296, "height": 264,
 "encoding": {
  "x": {"field": "t", "type": "quantitative", "scale": {"domain": [-0.282, 7.332], "nice": false, "zero": false}, "axis": {"values": [0,1,2,3,4,5,6,7], "title": ["Time (Days)", "(b)"], "labelPadding": 3, "titlePadding": 8}},
  "y": {"field": "v", "type": "quantitative", "scale": {"domain": [-0.0076, 0.1976], "nice": false, "zero": false}, "axis": {"values": [0, 0.05, 0.1, 0.15], "format": ".2f", "labelAngle": -90, "labelPadding": 4, "title": "Scaled Culture Density (AU)", "titlePadding": 6}}
 },
 "layer": [
  {"data": {"name": "cv"}, "transform": [{"filter": "datum.p == 'b' && datum.g == 'k'"}], "mark": {"type": "line", "interpolate": "monotone", "clip": true, "strokeWidth": 1, "color": "#222"}, "encoding": {"detail": {"field": "c"}}},
  {"data": {"name": "cv"}, "transform": [{"filter": "datum.p == 'b' && datum.g != 'k'"}], "mark": {"type": "line", "interpolate": "monotone", "clip": true, "strokeWidth": 1.6}, "encoding": {"color": {"field": "g", "scale": {"domain": ["r", "g"], "range": ["#ee1111", "#11c011"]}, "legend": null}}},
  {"data": {"name": "pt"}, "transform": [{"filter": "datum.p == 'b'"}], "mark": {"type": "point", "shape": "circle", "filled": false, "size": 36, "stroke": "#1a1a1a", "strokeWidth": 0.9, "clip": true}}
 ]
},
{
 "width": 295, "height": 264,
 "encoding": {
  "x": {"field": "t", "type": "quantitative", "scale": {"domain": [-0.282, 7.332], "nice": false, "zero": false}, "axis": {"values": [0,1,2,3,4,5,6,7], "title": ["Time (Days)", "(c)"], "labelPadding": 3, "titlePadding": 8}},
  "y": {"field": "v", "type": "quantitative", "scale": {"domain": [-0.0102, 0.2642], "nice": false, "zero": false}, "axis": {"values": [0, 0.05, 0.1, 0.15, 0.2, 0.25], "format": ".2f", "labelAngle": -90, "labelPadding": 4, "title": "Scaled Culture Density (AU)", "titlePadding": 6}}
 },
 "layer": [
  {"data": {"name": "cv"}, "transform": [{"filter": "datum.p == 'c' && datum.g == 'k'"}], "mark": {"type": "line", "interpolate": "monotone", "clip": true, "strokeWidth": 1, "color": "#222"}, "encoding": {"detail": {"field": "c"}}},
  {"data": {"name": "cv"}, "transform": [{"filter": "datum.p == 'c' && datum.g != 'k'"}], "mark": {"type": "line", "interpolate": "monotone", "clip": true, "strokeWidth": 1.6}, "encoding": {"color": {"field": "g", "scale": {"domain": ["r", "g"], "range": ["#ee1111", "#11c011"]}, "legend": null}}},
  {"data": {"name": "pt"}, "transform": [{"filter": "datum.p == 'c'"}], "mark": {"type": "point", "shape": "circle", "filled": false, "size": 36, "stroke": "#1a1a1a", "strokeWidth": 0.9, "clip": true}}
 ]
}
]
}
